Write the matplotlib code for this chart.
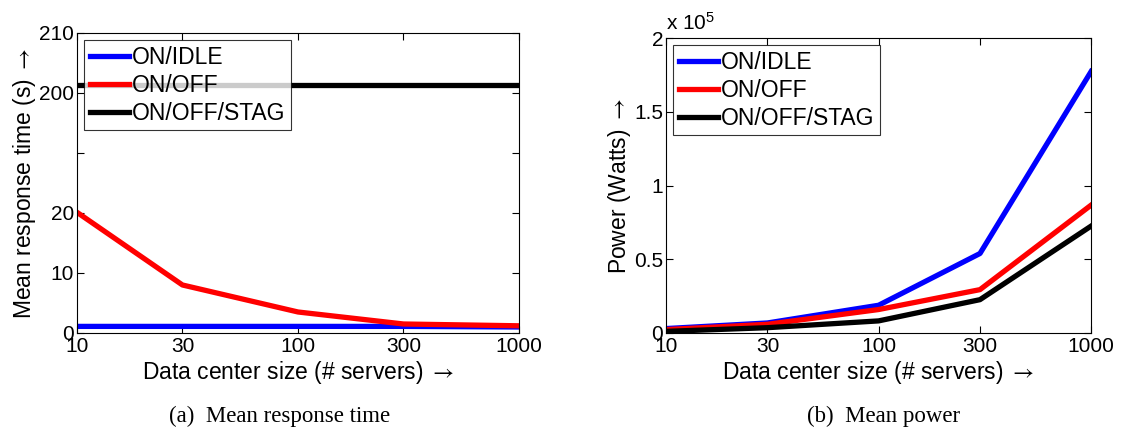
import numpy as np
import matplotlib
matplotlib.use("Agg")
from matplotlib import pyplot as plt
from matplotlib.ticker import FixedLocator, FixedFormatter, FuncFormatter, NullLocator

plt.rcParams['font.family'] = ['Liberation Sans', 'DejaVu Sans']
plt.rcParams['mathtext.fontset'] = 'stix'

# размеры дата-центра
sizes = [10, 30, 100, 300, 1000]

# среднее время отклика (с)
resp_idle = [1.1, 1.1, 1.1, 1.1, 1.0]
resp_off = [21.0, 8.0, 3.5, 1.5, 1.2]
resp_stag = [201.3, 201.3, 201.3, 201.3, 201.3]

# средняя мощность (Вт)
pow_idle = [3000, 6800, 18800, 53900, 177300]
pow_off = [2300, 5900, 15900, 29400, 86700]
pow_stag = [1100, 3600, 8200, 22600, 72500]

series_names = ["ON/IDLE", "ON/OFF", "ON/OFF/STAG"]
colors = ["#0000ff", "#ff0000", "#000000"]

y_ticks = [0, 10, 20, 110, 200, 210]
y_labels = ["0", "10", "20", "", "200", "210"]


# разрыв оси: 0..20 и 200..210 с одинаковым шагом
def fwd(v):
    v = np.asarray(v, dtype=float)
    return np.where(v <= 20, v / 10.0,
                    np.where(v >= 200, 4 + (v - 200) / 10.0, 2 + (v - 20) / 180.0 * 2))


def inv(t):
    t = np.asarray(t, dtype=float)
    return np.where(t <= 2, t * 10.0,
                    np.where(t >= 4, 200 + (t - 4) * 10.0, 20 + (t - 2) / 2 * 180.0))


fig = plt.figure(figsize=(11.46, 4.3), dpi=100)
ax1 = fig.add_axes([0.0672, 0.2256, 0.3857, 0.6977])
ax2 = fig.add_axes([0.5812, 0.2256, 0.3709, 0.6860])

fs_tick = 15
fs_lab = 16.5
arrow = r" $\rightarrow$"

for ax in (ax1, ax2):
    ax.set_xscale('log')
    ax.set_xlim(10, 1000)
    ax.xaxis.set_major_locator(FixedLocator(sizes))
    ax.xaxis.set_major_formatter(FixedFormatter([str(s) for s in sizes]))
    ax.xaxis.set_minor_locator(NullLocator())
    ax.tick_params(direction='in', top=True, right=True, labelsize=fs_tick, length=5, pad=2)
    ax.tick_params(axis='x', pad=3)
    ax.set_xlabel("Data center size (# servers)" + arrow, fontsize=fs_lab, labelpad=2)

legend_kw = dict(loc='upper left', fontsize=fs_lab, fancybox=False, edgecolor='black',
                 borderaxespad=0.3, handlelength=1.7, handletextpad=0.15,
                 labelspacing=0.22, borderpad=0.25)

# (a) время отклика
for vals, name, c in zip([resp_idle, resp_off, resp_stag], series_names, colors):
    ax1.plot(sizes, vals, color=c, lw=3.8, label=name)
ax1.set_yscale('function', functions=(fwd, inv))
ax1.set_ylim(0, 210)
ax1.yaxis.set_major_locator(FixedLocator(y_ticks))
ax1.yaxis.set_major_formatter(FixedFormatter(y_labels))
ax1.yaxis.set_minor_locator(NullLocator())
ax1.set_ylabel("Mean response time (s)" + arrow, fontsize=fs_lab, labelpad=1)
leg1 = ax1.legend(**legend_kw)
leg1.get_frame().set_linewidth(0.8)

# (b) мощность
for vals, name, c in zip([pow_idle, pow_off, pow_stag], series_names, colors):
    ax2.plot(sizes, vals, color=c, lw=3.8, label=name)
ax2.set_ylim(0, 200000)
ax2.yaxis.set_major_locator(FixedLocator([0, 50000, 100000, 150000, 200000]))
ax2.yaxis.set_major_formatter(FuncFormatter(lambda v, p: "%g" % (v / 1e5)))
ax2.set_ylabel("Power (Watts)" + arrow, fontsize=fs_lab, labelpad=1)
ax2.text(0.0, 1.015, r"x 10$^{\mathregular{5}}$", transform=ax2.transAxes, fontsize=fs_tick,
         ha='left', va='bottom')
leg2 = ax2.legend(**legend_kw)
leg2.get_frame().set_linewidth(0.8)

fig.text(0.244, 0.008, "(a)  Mean response time", fontsize=16.5, family='Liberation Serif',
         ha='center', va='bottom')
fig.text(0.771, 0.008, "(b)  Mean power", fontsize=16.5, family='Liberation Serif',
         ha='center', va='bottom')

fig.savefig("out.png", dpi=100)
